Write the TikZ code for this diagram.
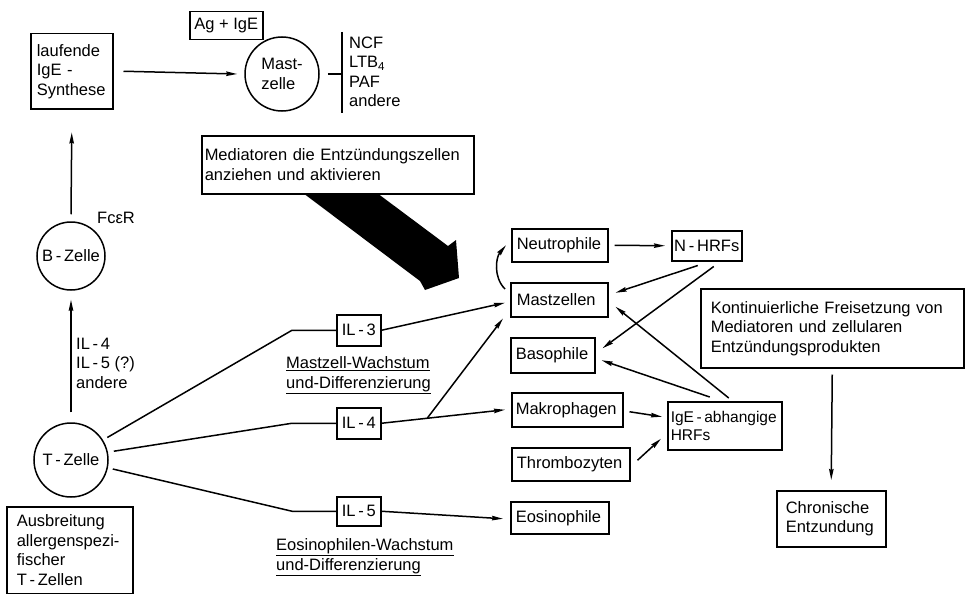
\documentclass[tikz,border=0pt]{standalone}
\usepackage{fontspec}
\setmainfont{Liberation Sans}
\usetikzlibrary{arrows.meta,calc}
\begin{document}
\begin{tikzpicture}[x=1pt,y=-1pt,
  every node/.style={font=\fontsize{16.5}{19.5}\selectfont},
  ln/.style={line width=1.5pt},
  arr/.style={ln,-{Stealth[length=11pt,width=4.5pt,inset=1pt]}},
  bx/.style={draw,ln,fill=white,anchor=north west,align=left,inner ysep=0pt},
  cb/.style={draw,ln,fill=white,anchor=north west,align=center,inner sep=0pt},
  cell/.style={draw,ln,circle,inner sep=0pt},
  lbl/.style={inner sep=0pt,align=left,anchor=west}]
\useasboundingbox (0,0) rectangle (966,594);

% big black arrow
\fill[black] (303,193) -- (377,193) -- (448,246) -- (456,240) -- (459,278) -- (425,290) -- (420,281) -- cycle;

% boxes
\node[bx,minimum height=75,inner xsep=6pt,text width=70pt] (lauf) at (30,33) {laufende\\IgE -\\Synthese};
\node[cb,minimum width=73,minimum height=28] (agige) at (189,11) {Ag + IgE};
\node[bx,minimum height=58,inner xsep=3pt,text width=266pt] (med) at (201,135) {Mediatoren die Entzündungszellen\\anziehen und aktivieren};
\node[bx,minimum height=79,inner xsep=10pt,text width=243pt] (kont) at (700,288) {Kontinuierliche Freisetzung von\\Mediatoren und zellularen\\Entzündungsprodukten};
\node[bx,minimum height=56,inner xsep=9pt,text width=91pt] (chron) at (776,490) {Chronische\\Entzundung};
\node[bx,minimum height=48,inner xsep=3pt,text width=108pt,font=\fontsize{15.5}{18}\selectfont] (ige) at (667,401) {IgE\,-\,abhangige\\HRFs};
\node[bx,minimum height=87,inner xsep=10pt,text width=106pt] (aus) at (6,506) {Ausbreitung\\allergenspezi-\\fischer\\T\,-\,Zellen};
\node[bx,minimum height=33,inner xsep=5pt,text width=86pt] (neut) at (511,228) {Neutrophile};
\node[cb,minimum width=70,minimum height=30] (nhrf) at (671,230) {N\,-\,HRFs};
\node[bx,minimum height=34,inner xsep=6pt,text width=85pt] (mz) at (510,282) {Mastzellen};
\node[bx,minimum height=35,inner xsep=5pt,text width=74pt] (baso) at (510,337) {Basophile};
\node[bx,minimum height=34,inner xsep=4pt,text width=103pt] (makro) at (511,392) {Makrophagen};
\node[bx,minimum height=33,inner xsep=5pt,text width=108pt] (thr) at (511,447) {Thrombozyten};
\node[bx,minimum height=32,inner xsep=5pt,text width=88pt] (eos) at (510,501) {Eosinophile};
\node[cb,minimum width=44,minimum height=31] (il3) at (336,314) {IL\,-\,3};
\node[cb,minimum width=44,minimum height=31] (il4) at (336,407) {IL\,-\,4};
\node[cb,minimum width=44,minimum height=29] (il5) at (336,496) {IL\,-\,5};

% cells
\node[cell,minimum size=74,align=left] (mast) at (282,74) {Mast-\\zelle};
\node[cell,minimum size=68] (bz) at (71,256) {B\,-\,Zelle};
\node[cell,minimum size=74] (tz) at (71,460) {T\,-\,Zelle};

% labels
\node[lbl] (list) at (349,72) {NCF\\LTB\textsubscript{4}\\PAF\\andere};
\node[lbl] (ilx) at (76,363) {IL\,-\,4\\IL\,-\,5 (?)\\andere};
\node[inner sep=0pt] (fc) at (116,218) {FcεR};
\node[lbl] (mwl) at (286,375) {\underline{Mastzell-Wachstum}\\\underline{und-Differenzierung}};
\node[lbl] (ewl) at (276,557) {\underline{Eosinophilen-Wachstum}\\\underline{und-Differenzierung}};

% bar next to Mastzelle
\coordinate (bartop) at (342,32);
\coordinate (barbot) at (342,113);
\draw[ln] (bartop) -- (barbot);
\draw[ln] ([xshift=8]mast.east) -- (mast.east -| bartop);

% connectors
\draw[arr] ([xshift=10]lauf.east) -- ([xshift=-7]mast.west);
\draw[arr] ([yshift=7]bz.north) -- ([yshift=-23]lauf.south);
\draw[arr] ([yshift=10]tz.north) -- ([yshift=-9]bz.south);

\draw[ln,shorten <=5pt] (tz.32) -- ([xshift=-44]il3.west) -- (il3.west);
\draw[ln,shorten <=6pt] (tz.12) -- ([xshift=-44]il4.west) -- (il4.west);
\draw[ln,shorten <=5pt] (tz.-12) -- ([xshift=-44]il5.west) -- (il5.west);

\draw[arr] (il3.east) -- ([xshift=-5,yshift=-3]mz.west);
\draw[arr] (il4.east) -- ([xshift=-6]makro.west) coordinate[pos=0.37] (br);
\draw[arr] (br) -- ([xshift=-7,yshift=-1]mz.south west);
\draw[arr] (il5.east) -- ([xshift=-7,yshift=-1]eos.west);

\draw[arr] ([xshift=6]neut.east) -- ([xshift=-6]nhrf.west);
\draw[arr] ([xshift=-5,yshift=-7]mz.north west) .. controls +(-12,-12) and +(-10,12) .. ([xshift=-5]neut.west);
\draw[arr] ([xshift=-9,yshift=-4]nhrf.south) -- ([xshift=7,yshift=7]mz.east);
\draw[arr] ([xshift=7,yshift=-5]nhrf.south) -- ([xshift=7,yshift=7]baso.east);
\draw[arr] ([xshift=-15,yshift=4]ige.north) -- ([xshift=6,yshift=-5]baso.east);
\draw[arr] ([xshift=4,yshift=3]ige.north) -- ([xshift=7,yshift=-7]mz.east);
\draw[arr] ([xshift=6,yshift=-2]makro.east) -- ([xshift=-5,yshift=9]ige.west);
\draw[arr] ([xshift=7,yshift=4]thr.east) -- ([xshift=-6,yshift=-13]ige.west);
\draw[arr] ([yshift=-6]kont.south) -- ([yshift=10]chron.north);
\end{tikzpicture}
\end{document}
